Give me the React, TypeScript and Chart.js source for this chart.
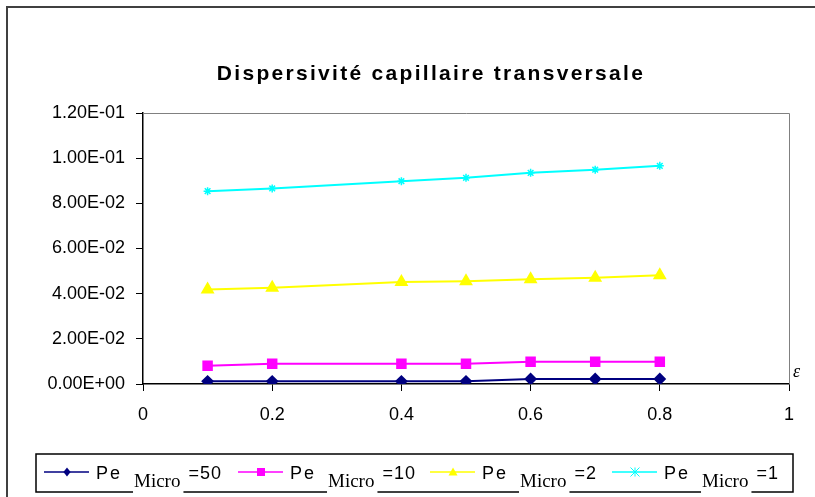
import React, { useEffect, useRef } from "react";
import { Chart, registerables } from "chart.js";

Chart.register(...registerables);

const TITLE = "Dispersivité capillaire transversale";
const X_AXIS_SYMBOL = "ε";
const X_VALUES = [0.1, 0.2, 0.4, 0.5, 0.6, 0.7, 0.8];
const PE_50 = [0.0012, 0.0012, 0.0012, 0.0012, 0.0022, 0.0022, 0.0022];
const PE_10 = [0.0081, 0.009, 0.009, 0.009, 0.0099, 0.0099, 0.0099];
const PE_2 = [0.0418, 0.0426, 0.0452, 0.0455, 0.0464, 0.0471, 0.0481];
const PE_1 = [0.0854, 0.0866, 0.0898, 0.0913, 0.0935, 0.0949, 0.0966];

const X_TICK_VALUES = [0, 0.2, 0.4, 0.6, 0.8, 1];
const X_TICK_LABELS = ["0", "0.2", "0.4", "0.6", "0.8", "1"];
const Y_TICK_VALUES = [0, 0.02, 0.04, 0.06, 0.08, 0.1, 0.12];
const Y_TICK_LABELS = ["0.00E+00", "2.00E-02", "4.00E-02", "6.00E-02", "8.00E-02", "1.00E-01", "1.20E-01"];

const LEGEND_MAIN = ["Pe", "Pe", "Pe", "Pe"];
const LEGEND_SUB = ["Micro", "Micro", "Micro", "Micro"];
const LEGEND_SUFFIX = ["=50", "=10", "=2", "=1"];

const SANS = "'Liberation Sans', Arial, sans-serif";
const SERIF = "'Liberation Serif', 'Times New Roman', serif";

function drawMarker(ctx: CanvasRenderingContext2D, style: string, x: number, y: number, r: number, color: string) {
  ctx.save();
  ctx.fillStyle = color;
  ctx.strokeStyle = color;
  ctx.lineWidth = 1;
  ctx.beginPath();
  if (style === "rectRot") {
    ctx.moveTo(x, y - r);
    ctx.lineTo(x + r * 0.8, y);
    ctx.lineTo(x, y + r);
    ctx.lineTo(x - r * 0.8, y);
    ctx.closePath();
    ctx.fill();
  } else if (style === "rect") {
    ctx.rect(x - r, y - r, 2 * r, 2 * r);
    ctx.fill();
  } else if (style === "triangle") {
    ctx.moveTo(x, y - r);
    ctx.lineTo(x + r, y + r * 0.8);
    ctx.lineTo(x - r, y + r * 0.8);
    ctx.closePath();
    ctx.fill();
  } else {
    ctx.moveTo(x - r, y - r);
    ctx.lineTo(x + r, y + r);
    ctx.moveTo(x + r, y - r);
    ctx.lineTo(x - r, y + r);
    ctx.moveTo(x, y - r);
    ctx.lineTo(x, y + r);
    ctx.stroke();
  }
  ctx.restore();
}

const decorPlugin = {
  id: "decor",
  beforeInit(chart: any) {
    chart.ctx.letterSpacing = "1.5px";
  },
  afterDraw(chart: any) {
    const ctx: CanvasRenderingContext2D = chart.ctx;
    const { left, right, top, bottom } = chart.chartArea;
    ctx.save();
    // outer frame
    ctx.strokeStyle = "#404040";
    ctx.lineWidth = 2;
    ctx.beginPath();
    ctx.moveTo(7, 498);
    ctx.lineTo(7, 7);
    ctx.lineTo(816, 7);
    ctx.stroke();
    // plot area gray top/right
    ctx.strokeStyle = "#808080";
    ctx.lineWidth = 1;
    ctx.beginPath();
    ctx.moveTo(left, top + 0.5);
    ctx.lineTo(right + 0.5, top + 0.5);
    ctx.lineTo(right + 0.5, bottom);
    ctx.stroke();
    // title
    (ctx as any).letterSpacing = "2.3px";
    ctx.fillStyle = "#000";
    ctx.font = `bold 21px ${SANS}`;
    ctx.textAlign = "center";
    ctx.textBaseline = "alphabetic";
    ctx.fillText(TITLE, 431, 80);
    // axis symbol
    (ctx as any).letterSpacing = "0px";
    ctx.font = `italic 18px ${SERIF}`;
    ctx.textAlign = "left";
    ctx.fillText(X_AXIS_SYMBOL, right + 4, bottom - 7);
    // legend box
    ctx.strokeStyle = "#000";
    ctx.lineWidth = 1.5;
    ctx.strokeRect(36, 454, 757, 38);
    const starts = [44, 238, 430, 612];
    const ds = chart.data.datasets;
    for (let i = 0; i < ds.length; i++) {
      const x0 = starts[i];
      const ly = 472;
      const color = ds[i].borderColor;
      ctx.strokeStyle = color;
      ctx.lineWidth = 1.5;
      ctx.beginPath();
      ctx.moveTo(x0, ly);
      ctx.lineTo(x0 + 45, ly);
      ctx.stroke();
      drawMarker(ctx, ds[i].pointStyle, x0 + 23, ly, ds[i].pointStyle === "rect" ? 4 : 4.5, color);
      ctx.fillStyle = "#000";
      (ctx as any).letterSpacing = "2px";
      ctx.font = `18px ${SANS}`;
      ctx.textAlign = "left";
      ctx.fillText(LEGEND_MAIN[i], x0 + 52, 479);
      const mainW = ctx.measureText(LEGEND_MAIN[i]).width;
      (ctx as any).letterSpacing = "0px";
      ctx.font = `19px ${SERIF}`;
      const subX = x0 + 52 + mainW + 12;
      const subW = ctx.measureText(LEGEND_SUB[i]).width;
      ctx.fillStyle = "#fff";
      ctx.fillRect(subX - 1, 486, subW + 4, 8);
      ctx.fillStyle = "#000";
      ctx.fillText(LEGEND_SUB[i], subX, 487);
      (ctx as any).letterSpacing = "1px";
      ctx.font = `18px ${SANS}`;
      ctx.fillText(LEGEND_SUFFIX[i], subX + subW + 8, 479);
    }
    ctx.restore();
  },
};

function series(values: number[]) {
  return X_VALUES.map((x, i) => ({ x, y: values[i] }));
}

export default function App() {
  const ref = useRef<HTMLCanvasElement | null>(null);
  useEffect(() => {
    if (!ref.current) return;
    const chart = new Chart(ref.current, {
      type: "line",
      data: {
        datasets: [
          { label: "Pe Micro=50", data: series(PE_50), borderColor: "#000080", backgroundColor: "#000080", pointStyle: "rectRot", pointRadius: 5, borderWidth: 2 },
          { label: "Pe Micro=10", data: series(PE_10), borderColor: "#FF00FF", backgroundColor: "#FF00FF", pointStyle: "rect", pointRadius: 6, borderWidth: 2 },
          { label: "Pe Micro=2", data: series(PE_2), borderColor: "#FFFF00", backgroundColor: "#FFFF00", pointStyle: "triangle", pointRadius: 6, borderWidth: 2 },
          { label: "Pe Micro=1", data: series(PE_1), borderColor: "#00FFFF", backgroundColor: "#00FFFF", pointStyle: "star", pointRadius: 4, borderWidth: 2, pointBorderWidth: 1.5 },
        ] as any,
      },
      options: {
        animation: false,
        responsive: false,
        maintainAspectRatio: false,
        layout: { padding: { left: 0, right: 26, top: 113, bottom: 0 } },
        plugins: { legend: { display: false }, title: { display: false }, tooltip: { enabled: false } },
        elements: { line: { tension: 0 } },
        scales: {
          x: {
            type: "linear",
            min: 0,
            max: 1,
            afterBuildTicks: (s: any) => { s.ticks = X_TICK_VALUES.map((v) => ({ value: v })); },
            afterFit: (s: any) => { s.height = 113; },
            ticks: {
              callback: (_v: any, i: number) => X_TICK_LABELS[i],
              color: "#000",
              font: { family: SANS, size: 18 },
              padding: 13,
              maxRotation: 0,
              autoSkip: false,
            },
            grid: { display: true, drawOnChartArea: false, drawTicks: true, tickLength: 7, color: "#000" },
            border: { display: true, color: "#000", width: 1.5 },
          },
          y: {
            type: "linear",
            min: 0,
            max: 0.12,
            afterBuildTicks: (s: any) => { s.ticks = Y_TICK_VALUES.map((v) => ({ value: v })); },
            afterFit: (s: any) => { s.width = 143; },
            ticks: {
              callback: (_v: any, i: number) => Y_TICK_LABELS[i],
              color: "#000",
              font: { family: SANS, size: 18 },
              padding: 11,
              autoSkip: false,
            },
            grid: { display: true, drawOnChartArea: false, drawTicks: true, tickLength: 7, color: "#000" },
            border: { display: true, color: "#000", width: 1.5 },
          },
        },
      } as any,
      plugins: [decorPlugin],
    });
    return () => chart.destroy();
  }, []);
  return (
    <div style={{ position: "fixed", left: 0, top: 0, width: 815, height: 497, background: "#fff" }}>
      <canvas ref={ref} width={815} height={497} style={{ display: "block", width: 815, height: 497 }} />
    </div>
  );
}
